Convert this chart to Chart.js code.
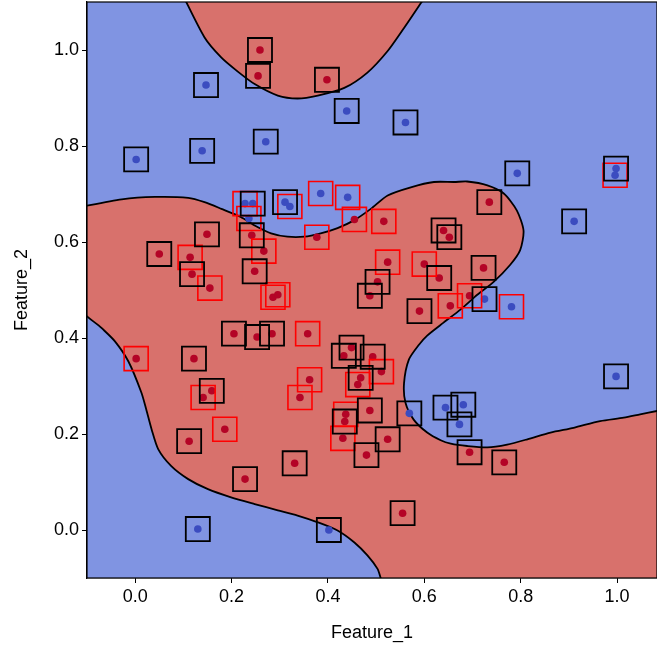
<!DOCTYPE html>
<html>
<head>
<meta charset="utf-8">
<script src="https://cdn.jsdelivr.net/npm/chart.js@4.4.1/dist/chart.umd.min.js"></script>
<style>
  html, body { margin: 0; padding: 0; background: #ffffff; }
  canvas { display: block; }
</style>
</head>
<body>
<canvas id="chart" width="657" height="650"></canvas>
<script>
// Axis ticks
const xTicks = [0.0, 0.2, 0.4, 0.6, 0.8, 1.0];
const yTicks = [0.0, 0.2, 0.4, 0.6, 0.8, 1.0];

// Training samples (framed in black): coordinates and class (0 / 1)
const trainX = [0.147, 0.139, 0.002, 0.271, 0.439, 0.561, 0.793, 0.998, 0.911, 0.725, 0.998, 0.569, 0.644, 0.681, 0.673, 0.402, 0.130, 0.244, 0.311,
                0.259, 0.255, 0.398, 0.735, 0.723, 0.640, 0.652, 0.631, 0.503, 0.487, 0.590, 0.149, 0.050, 0.118, 0.242, 0.248, 0.205, 0.253,
                0.284, 0.122, 0.159, 0.112, 0.228, 0.449, 0.433, 0.493, 0.468, 0.487, 0.435, 0.524, 0.480, 0.331, 0.694, 0.766, 0.555];
const trainY = [0.927, 0.790, 0.772, 0.809, 0.873, 0.849, 0.743, 0.753, 0.643, 0.481, 0.320, 0.243, 0.255, 0.261, 0.220, 0.000, 0.002, 0.680, 0.683,
                1.000, 0.946, 0.938, 0.683, 0.546, 0.624, 0.610, 0.525, 0.517, 0.488, 0.456, 0.616, 0.575, 0.533, 0.614, 0.539, 0.409, 0.402,
                0.409, 0.357, 0.290, 0.185, 0.106, 0.380, 0.363, 0.361, 0.317, 0.249, 0.226, 0.189, 0.156, 0.139, 0.162, 0.141, 0.035];
const trainCls = [0, 0, 0, 0, 0, 0, 0, 0, 0, 0, 0, 0, 0, 0, 0, 0, 0, 0, 0,
                  1, 1, 1, 1, 1, 1, 1, 1, 1, 1, 1, 1, 1, 1, 1, 1, 1, 1,
                  1, 1, 1, 1, 1, 1, 1, 1, 1, 1, 1, 1, 1, 1, 1, 1, 1];

// Test samples (framed in red)
const testX = [0.996, 0.781, 0.228, 0.236, 0.321, 0.385, 0.441,
               0.455, 0.516, 0.377, 0.267, 0.524, 0.600, 0.654, 0.694, 0.114, 0.155, 0.286, 0.296, 0.358, 0.002, 0.511,
               0.462, 0.362, 0.342, 0.437, 0.431, 0.141, 0.186];
const testY = [0.739, 0.465, 0.680, 0.649, 0.674, 0.701, 0.693,
               0.647, 0.643, 0.610, 0.581, 0.558, 0.554, 0.467, 0.488, 0.568, 0.504, 0.485, 0.490, 0.409, 0.357, 0.330,
               0.303, 0.313, 0.276, 0.241, 0.191, 0.276, 0.210];
const testCls = [0, 0, 0, 0, 0, 0, 0,
                 1, 1, 1, 1, 1, 1, 1, 1, 1, 1, 1, 1, 1, 1, 1,
                 1, 1, 1, 1, 1, 1, 1];

// Decision boundary: closed outlines of the class-1 regions
const upperRegionX = [0.096, 0.144, 0.179, 0.213, 0.248, 0.296, 0.337, 0.379, 0.434, 0.482, 0.524, 0.558, 0.593, 0.607, 0.096];
const upperRegionY = [1.120, 1.026, 0.984, 0.955, 0.929, 0.905, 0.899, 0.905, 0.921, 0.953, 0.998, 1.046, 1.098, 1.120, 1.120];

const mainRegionX = [-0.12, -0.028, 0.041, 0.110, 0.144, 0.179, 0.219, 0.247, 0.282, 0.316, 0.351, 0.385, 0.420, 0.454, 0.489, 0.524,
                     0.572, 0.620, 0.662, 0.689, 0.731, 0.765, 0.792, 0.806, 0.799, 0.778, 0.744, 0.710, 0.675, 0.640, 0.606, 0.589,
                     0.568, 0.558, 0.561, 0.578, 0.606, 0.634, 0.655, 0.689, 0.731, 0.772, 0.814, 0.862, 0.910, 0.965, 1.014, 1.048,
                     1.083, 1.12, 1.12, 0.522, 0.503, 0.482, 0.455, 0.420, 0.379, 0.337, 0.296, 0.248, 0.199, 0.151, 0.110, 0.075,
                     0.048, 0.034, 0.023, 0.013, -0.014, -0.042, -0.070, -0.12, -0.12];
const mainRegionY = [0.672, 0.689, 0.694, 0.692, 0.683, 0.669, 0.652, 0.635, 0.618, 0.611, 0.611, 0.618, 0.629, 0.645, 0.669, 0.697,
                     0.714, 0.725, 0.725, 0.726, 0.718, 0.701, 0.666, 0.624, 0.583, 0.552, 0.517, 0.490, 0.459, 0.432, 0.405, 0.386,
                     0.355, 0.306, 0.265, 0.230, 0.203, 0.187, 0.180, 0.175, 0.172, 0.178, 0.189, 0.203, 0.213, 0.227, 0.234, 0.241,
                     0.248, 0.255, -0.12, -0.12, -0.081, -0.053, -0.026, -0.001, 0.016, 0.030, 0.041, 0.054, 0.068, 0.085, 0.106, 0.133,
                     0.168, 0.210, 0.251, 0.286, 0.351, 0.393, 0.421, 0.469, 0.672];

// Colours
const CLASS0_BG = 'rgb(128,148,226)';
const CLASS1_BG = 'rgb(216,113,108)';
const CLASS0_DOT = '#3b4cc0';
const CLASS1_DOT = '#b40426';

const TICK_FONT = { family: "'Liberation Sans', Arial, sans-serif", size: 18 };
const TITLE_FONT = { family: "'Liberation Sans', Arial, sans-serif", size: 18 };
const TEXT = '#000000';

const toPoints = (xs, ys) => xs.map((x, i) => ({ x: x, y: ys[i] }));
const pick = (xs, ys, cls, c) => xs.map((x, i) => ({ x: x, y: ys[i], c: cls[i] })).filter(p => p.c === c);

const dots0 = pick(trainX, trainY, trainCls, 0).concat(pick(testX, testY, testCls, 0));
const dots1 = pick(trainX, trainY, trainCls, 1).concat(pick(testX, testY, testCls, 1));

function regionDataset(xs, ys) {
  return {
    type: 'line',
    data: toPoints(xs, ys),
    showLine: true,
    fill: 'shape',
    backgroundColor: CLASS1_BG,
    borderColor: '#000000',
    borderWidth: 1.8,
    tension: 0.25,
    capBezierPoints: false,
    pointRadius: 0,
    clip: 0,
    order: 5
  };
}

// Keep the plot area fixed: no extra room reserved for edge tick labels
function fixPadding(s) {
  s.paddingLeft = 0; s.paddingRight = 0; s.paddingTop = 0; s.paddingBottom = 0;
}

// Plot-area background (class 0 region) and the frame around it
const plotBackground = {
  id: 'plotBackground',
  beforeDatasetsDraw(chart) {
    const { ctx, chartArea: a } = chart;
    ctx.save();
    ctx.fillStyle = CLASS0_BG;
    ctx.fillRect(a.left, a.top, a.right - a.left, a.bottom - a.top);
    ctx.restore();
  },
  afterDatasetsDraw(chart) {
    const { ctx, chartArea: a } = chart;
    ctx.save();
    ctx.strokeStyle = '#000000';
    ctx.lineWidth = 1.2;
    ctx.strokeRect(a.left, a.top, a.right - a.left, a.bottom - a.top);
    ctx.restore();
  }
};

new Chart(document.getElementById('chart'), {
  type: 'scatter',
  data: {
    datasets: [
      {
        data: toPoints(trainX, trainY),
        pointStyle: 'rect',
        pointRadius: 17,
        backgroundColor: 'rgba(0,0,0,0)',
        borderColor: '#000000',
        borderWidth: 1.8,
        order: 0
      },
      {
        data: toPoints(testX, testY),
        pointStyle: 'rect',
        pointRadius: 17,
        backgroundColor: 'rgba(0,0,0,0)',
        borderColor: '#ff0000',
        borderWidth: 1.6,
        order: 0
      },
      { data: dots0, pointRadius: 3.8, backgroundColor: CLASS0_DOT, borderWidth: 0, order: 1 },
      { data: dots1, pointRadius: 3.8, backgroundColor: CLASS1_DOT, borderWidth: 0, order: 1 },
      regionDataset(upperRegionX, upperRegionY),
      regionDataset(mainRegionX, mainRegionY)
    ]
  },
  options: {
    responsive: false,
    animation: false,
    devicePixelRatio: 1,
    layout: { autoPadding: false, padding: { top: 2, right: 0, left: 0, bottom: 0 } },
    plugins: { legend: { display: false }, tooltip: { enabled: false } },
    scales: {
      x: {
        type: 'linear',
        min: -0.1,
        max: 1.083,
        afterFit(s) { s.height = 72; fixPadding(s); },
        afterBuildTicks(s) { s.ticks = xTicks.map(v => ({ value: v })); },
        ticks: { font: TICK_FONT, color: TEXT, padding: 3, autoSkip: false, maxRotation: 0, callback: v => Number(v).toFixed(1) },
        grid: { drawOnChartArea: false, drawTicks: true, tickLength: 5, color: '#000000', lineWidth: 1 },
        border: { display: true, color: '#000000', width: 1.2 },
        title: { display: true, text: 'Feature_1', font: TITLE_FONT, color: TEXT, padding: { top: 0, bottom: 6 } }
      },
      y: {
        type: 'linear',
        min: -0.1,
        max: 1.1,
        afterFit(s) { s.width = 87; fixPadding(s); },
        afterBuildTicks(s) { s.ticks = yTicks.map(v => ({ value: v })); },
        ticks: { font: TICK_FONT, color: TEXT, padding: 3, autoSkip: false, callback: v => Number(v).toFixed(1) },
        grid: { drawOnChartArea: false, drawTicks: true, tickLength: 5, color: '#000000', lineWidth: 1 },
        border: { display: true, color: '#000000', width: 1.2 },
        title: { display: true, text: 'Feature_2', font: TITLE_FONT, color: TEXT, padding: { top: 11, bottom: 0 } }
      }
    }
  },
  plugins: [plotBackground]
});
</script>
</body>
</html>
